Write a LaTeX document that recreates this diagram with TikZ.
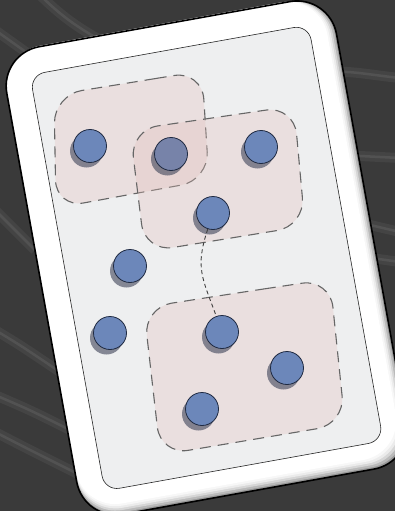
\documentclass[tikz,border=0pt]{standalone}
\usepackage{tikz}
\usetikzlibrary{shadows}
\definecolor{bgdark}{HTML}{3A3A3A}
\definecolor{cardface}{HTML}{EEEFF0}
\definecolor{grpfill}{HTML}{E1BDB8}
\definecolor{grpline}{HTML}{666666}
\definecolor{dotblue}{HTML}{6C87BA}
\definecolor{dotmix}{HTML}{7783A9}
\definecolor{dotline}{HTML}{1F2A42}
\definecolor{dotshade}{HTML}{3E4358}

\begin{document}
\begin{tikzpicture}[x=1pt, y=-1pt,
    streak/.style={draw=white, opacity=0.08, line width=2.5pt, line cap=round,
        preaction={draw=white, opacity=0.05, line width=10pt}},
    rim/.style={rotate=10.2, rounded corners=40pt, inner sep=0pt},
    face/.style={rotate=10.2, rounded corners=15pt, inner sep=0pt, fill=cardface, draw=black!85, line width=0.6pt},
    grp/.style={draw=grpline, line width=1.1pt, dash pattern=on 11pt off 7pt, fill=grpfill, fill opacity=0.3, rounded corners=28pt},
    dot/.style={circle, minimum size=33pt, inner sep=0pt, draw=dotline, line width=0.8pt, fill=dotblue,
        drop shadow={shadow xshift=-3.5pt, shadow yshift=-5pt, fill=dotshade, opacity=0.6}},
    link/.style={draw=black!75, line width=0.9pt, dash pattern=on 4pt off 3pt}
]
\useasboundingbox (0,0) rectangle (395,511);
\clip (0,0) rectangle (395,511);
\fill[bgdark] (0,0) rectangle (395,511);

\draw[streak] (40,-5) .. controls (60,15) and (80,30) .. (110,45);
\draw[streak] (-5,30) -- (30,55);
\draw[streak] (320,72) .. controls (350,70) and (370,75) .. (400,78);
\draw[streak] (340,155) -- (400,158);
\draw[streak] (350,220) .. controls (370,225) .. (400,232);
\draw[streak] (350,255) -- (400,262);
\draw[streak] (-5,210) -- (35,250);
\draw[streak] (-5,330) .. controls (20,345) .. (60,372);
\draw[streak] (-5,395) .. controls (30,410) .. (70,430);
\draw[streak] (-5,432) .. controls (30,450) .. (80,475);

\foreach \k/\c in {0/black!40, 1/black!27, 2/black!16, 3/black!8, 4/black!3, 5/white}
    \node[rim, fill=\c, minimum width=335pt-2*\k pt, minimum height=475pt-2*\k pt] at (206.6-\k,257.9-\k) {};
\node[rim, draw=black, line width=1.6pt, minimum width=335pt, minimum height=475pt] (card) at (206.6,257.9) {};
\node[face, minimum width=283pt, minimum height=422.6pt] (board) at (206.6,257.9) {};

\draw[grp] (128,83) -- (202,71) -- (209,180) -- (56,208) -- (54,95) -- cycle;
\draw[grp] (212,118) -- (294,106) -- (305,226) -- (145,252) -- (130,130) -- cycle;
\draw[grp] (237,293) -- (330,279) -- (345,424) -- (160.5,455) -- (143.7,307.5) -- cycle;

\node[dot] (n1) at (90,146) {};
\node[dot, fill=dotmix] (n2) at (171,154) {};
\node[dot] (n3) at (261,147) {};
\node[dot] (n4) at (213,213) {};
\node[dot] (n5) at (130,266) {};
\node[dot] (n6) at (110,333) {};
\node[dot] (n7) at (222,332) {};
\node[dot] (n8) at (287,368) {};
\node[dot] (n9) at (202,409) {};

\draw[link] (n4) .. controls +(-18,55) and +(-20,-55) .. (n7);
\end{tikzpicture}
\end{document}
